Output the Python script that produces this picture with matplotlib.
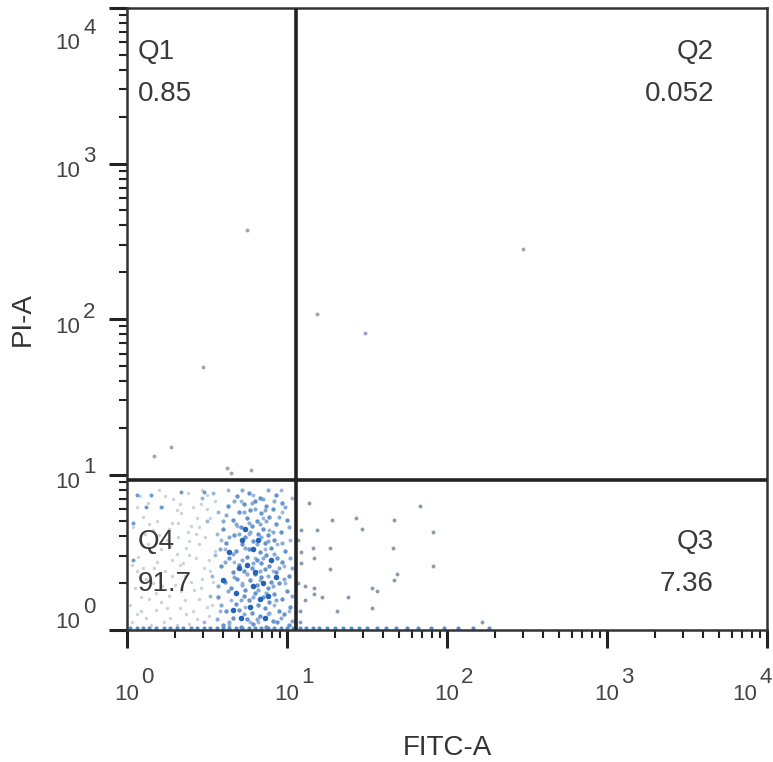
import numpy as np
import matplotlib
matplotlib.use('Agg')
import matplotlib.pyplot as plt
from matplotlib.ticker import LogLocator, NullFormatter

plt.rcParams['font.family'] = ['Liberation Sans', 'DejaVu Sans']

# quadrant gate (FITC-A, PI-A)
gate_x = 11.4
gate_y = 9.2

quad_names = ['Q1', 'Q2', 'Q3', 'Q4']
quad_pcts = ['0.85', '0.052', '7.36', '91.7']
decades = [0, 1, 2, 3, 4]

# events as (log10 FITC-A, log10 PI-A)
core_blue = [
    (0.60, 0.03), (0.71, 0.02), (0.79, 0.04), (0.87, 0.02), (0.94, 0.05), (1.01, 0.03),
    (0.66, 0.08), (0.75, 0.07), (0.83, 0.09), (0.91, 0.06), (0.98, 0.10),
    (0.62, 0.12), (0.70, 0.13), (0.78, 0.11), (0.86, 0.14), (0.95, 0.12), (1.02, 0.15),
    (0.68, 0.17), (0.76, 0.19), (0.82, 0.16), (0.89, 0.18), (0.97, 0.20),
    (0.57, 0.21), (0.73, 0.22), (0.80, 0.24), (0.85, 0.21), (0.92, 0.23), (1.00, 0.25),
    (0.65, 0.27), (0.74, 0.26), (0.81, 0.29), (0.88, 0.27), (0.95, 0.30),
    (0.61, 0.31), (0.69, 0.33), (0.77, 0.32), (0.84, 0.34), (0.90, 0.31), (1.01, 0.35),
    (0.66, 0.37), (0.73, 0.38), (0.80, 0.36), (0.86, 0.39), (0.93, 0.37),
    (0.59, 0.41), (0.70, 0.42), (0.78, 0.40), (0.84, 0.43), (0.89, 0.41), (0.97, 0.44),
    (0.64, 0.46), (0.75, 0.47), (0.81, 0.45), (0.87, 0.48), (0.94, 0.46),
    (0.68, 0.51), (0.76, 0.52), (0.83, 0.50), (0.90, 0.53), (0.99, 0.51),
    (0.62, 0.56), (0.72, 0.55), (0.79, 0.57), (0.86, 0.56), (0.92, 0.58),
    (0.67, 0.61), (0.74, 0.60), (0.82, 0.62), (0.88, 0.61), (0.96, 0.63),
    (0.60, 0.65), (0.71, 0.66), (0.78, 0.67), (0.85, 0.65), (0.93, 0.68),
    (0.66, 0.71), (0.75, 0.72), (0.81, 0.70), (0.89, 0.73), (1.00, 0.71),
    (0.70, 0.76), (0.77, 0.77), (0.84, 0.75), (0.91, 0.78),
    (0.63, 0.80), (0.73, 0.81), (0.80, 0.83), (0.87, 0.80), (0.97, 0.82),
    (0.69, 0.86), (0.76, 0.88), (0.83, 0.85), (0.93, 0.87),
]
mid_blue = [
    (0.64, 0.05), (0.73, 0.10), (0.81, 0.07), (0.89, 0.11), (0.96, 0.08), (1.03, 0.06),
    (0.59, 0.16), (0.71, 0.19), (0.79, 0.21), (0.87, 0.24), (0.93, 0.19), (1.03, 0.22),
    (0.63, 0.25), (0.72, 0.29), (0.82, 0.26), (0.91, 0.28), (0.98, 0.33),
    (0.67, 0.34), (0.75, 0.36), (0.83, 0.38), (0.88, 0.35), (0.95, 0.40),
    (0.61, 0.44), (0.72, 0.45), (0.79, 0.43), (0.85, 0.46), (0.92, 0.49), (1.02, 0.46),
    (0.66, 0.49), (0.74, 0.53), (0.81, 0.55), (0.88, 0.57), (0.97, 0.56),
    (0.64, 0.60), (0.70, 0.62), (0.77, 0.63), (0.84, 0.60), (0.91, 0.63), (1.01, 0.66),
    (0.68, 0.68), (0.76, 0.69), (0.83, 0.68), (0.87, 0.70), (0.95, 0.73),
    (0.62, 0.74), (0.73, 0.76), (0.80, 0.78), (0.86, 0.77), (0.99, 0.79),
    (0.67, 0.83), (0.78, 0.82), (0.85, 0.84), (0.92, 0.83),
    (0.58, 0.52), (0.57, 0.28), (0.56, 0.07), (0.60, 0.70), (0.72, 0.90), (0.88, 0.90),
    (1.03, 0.40),
]
dense_blue = [
    (0.79, 0.52), (0.80, 0.37), (0.60, 0.32), (0.68, 0.24), (0.77, 0.15),
    (0.90, 0.45), (0.72, 0.58), (0.85, 0.30), (0.75, 0.42), (0.83, 0.20),
    (0.70, 0.40), (0.82, 0.58), (0.66, 0.13), (0.88, 0.22), (0.74, 0.65),
    (0.79, 0.28), (0.93, 0.34), (0.64, 0.50), (0.86, 0.08), (0.71, 0.08),
]
light_blue = [
    (0.48, 0.05), (0.52, 0.22), (0.55, 0.48), (0.50, 0.70), (0.47, 0.85), (0.56, 0.62),
    (0.53, 0.35), (0.58, 0.12), (0.57, 0.76), (0.63, 0.90), (0.64, 0.03), (0.67, 0.44),
    (0.72, 0.30), (0.76, 0.62), (0.79, 0.87), (0.82, 0.05), (0.85, 0.72), (0.88, 0.10),
    (0.91, 0.38), (0.94, 0.55), (0.97, 0.76), (0.99, 0.30), (1.02, 0.58), (1.03, 0.85),
    (1.01, 0.12), (0.96, 0.90), (0.69, 0.67), (0.74, 0.15), (0.86, 0.52), (0.61, 0.52),
    (0.54, 0.88), (0.59, 0.58), (0.92, 0.16), (0.80, 0.46), (0.65, 0.19), (0.98, 0.41),
    (0.71, 0.83), (0.89, 0.64), (0.83, 0.32), (0.77, 0.05),
]
edge_blue = [
    (0.12, 0.79), (0.04, 0.69), (0.34, 0.89), (0.21, 0.79), (0.48, 0.89),
    (0.06, 0.87), (0.15, 0.87), (0.04, 0.45),
]
grey_cloud = [
    (0.03, 0.05), (0.09, 0.12), (0.15, 0.03), (0.21, 0.18), (0.27, 0.08), (0.33, 0.14),
    (0.39, 0.04), (0.45, 0.20), (0.51, 0.09), (0.05, 0.27), (0.12, 0.33), (0.18, 0.24),
    (0.24, 0.38), (0.30, 0.29), (0.36, 0.35), (0.42, 0.26), (0.48, 0.40), (0.54, 0.31),
    (0.07, 0.47), (0.13, 0.55), (0.19, 0.44), (0.25, 0.58), (0.31, 0.49), (0.37, 0.53),
    (0.43, 0.46), (0.49, 0.60), (0.55, 0.51), (0.04, 0.66), (0.10, 0.73), (0.16, 0.64),
    (0.22, 0.79), (0.28, 0.69), (0.34, 0.75), (0.40, 0.67), (0.46, 0.81), (0.52, 0.72),
    (0.08, 0.86), (0.20, 0.90), (0.29, 0.84), (0.38, 0.88), (0.50, 0.87), (0.26, 0.22),
    (0.32, 0.60), (0.41, 0.12), (0.17, 0.40), (0.35, 0.43), (0.44, 0.72), (0.23, 0.05),
    (0.14, 0.20), (0.47, 0.33), (0.11, 0.62), (0.39, 0.57), (0.28, 0.45), (0.06, 0.38),
    (0.53, 0.16), (0.19, 0.70), (0.36, 0.19), (0.43, 0.62), (0.31, 0.77), (0.02, 0.16),
    (0.06, 0.10), (0.12, 0.08), (0.18, 0.13), (0.25, 0.14), (0.31, 0.03), (0.37, 0.10),
    (0.44, 0.07), (0.50, 0.15), (0.09, 0.21), (0.16, 0.30), (0.22, 0.28), (0.28, 0.35),
    (0.34, 0.25), (0.40, 0.31), (0.46, 0.27), (0.52, 0.38), (0.03, 0.42), (0.10, 0.40),
    (0.15, 0.50), (0.21, 0.52), (0.27, 0.54), (0.33, 0.42), (0.39, 0.48), (0.45, 0.55),
    (0.51, 0.45), (0.08, 0.58), (0.14, 0.68), (0.20, 0.61), (0.26, 0.65), (0.32, 0.69),
    (0.38, 0.63), (0.45, 0.66), (0.50, 0.78), (0.06, 0.79), (0.13, 0.82), (0.24, 0.86),
    (0.33, 0.81), (0.41, 0.79), (0.47, 0.90), (0.55, 0.83),
]
# events piled up on the bottom edge (PI-A at the lower limit)
pile_x = [0.02, 0.06, 0.10, 0.14, 0.18, 0.23, 0.27, 0.31, 0.35, 0.40, 0.44, 0.48,
          0.52, 0.56, 0.60, 0.64, 0.68, 0.72, 0.76, 0.80, 0.84, 0.88, 0.92, 0.96,
          1.00, 1.04, 1.08, 1.12, 1.16, 1.20, 1.25, 1.30, 1.35, 1.40, 1.45, 1.50,
          1.56, 1.62, 1.68, 1.75, 1.82, 1.90, 1.98, 2.07, 2.16, 2.26]
pile_y = 0.01
q3_events = [
    (1.14, 0.82), (1.83, 0.80), (1.28, 0.71), (1.43, 0.72), (1.67, 0.71), (1.19, 0.64),
    (1.47, 0.65), (1.91, 0.63), (1.09, 0.64), (1.16, 0.53), (1.27, 0.53), (1.66, 0.53),
    (1.09, 0.50), (1.17, 0.46), (1.09, 0.43), (1.27, 0.39), (1.91, 0.41), (1.69, 0.36),
    (1.67, 0.32), (1.11, 0.28), (1.17, 0.27), (1.53, 0.27), (1.56, 0.25), (1.11, 0.19),
    (1.17, 0.23), (1.22, 0.21), (1.38, 0.21), (1.31, 0.12), (1.53, 0.14), (2.22, 0.05),
    (1.08, 0.05), (1.07, 0.30), (1.07, 0.58), (1.08, 0.12),
]
q1_events = [(0.75, 2.57), (0.475, 1.69), (0.275, 1.18), (0.17, 1.12),
             (0.625, 1.04), (0.775, 1.03), (0.65, 1.01)]
q2_events = [(1.19, 2.03), (1.49, 1.91), (2.475, 2.45)]


def to_lin(pairs):
    a = np.array(pairs)
    return 10 ** a[:, 0], 10 ** a[:, 1]


fig = plt.figure(figsize=(7.73, 7.62), dpi=100)
ax = fig.add_axes([0.1643, 0.1732, 0.828, 0.8163])

ax.scatter(*to_lin(grey_cloud), s=6, c='#cdd1d8', linewidths=0)
ax.scatter(*to_lin(light_blue), s=8, c='#9db6d8', linewidths=0)
ax.scatter(*to_lin(edge_blue), s=8, c='#6a98cf', linewidths=0)
ax.scatter(*to_lin(mid_blue), s=9, c='#86a9d6', linewidths=0)
ax.scatter(*to_lin(core_blue), s=10, c='#4a82c6', linewidths=0, alpha=0.85)
ax.scatter(*to_lin(dense_blue), s=16, c='#2563b5', linewidths=0)
ax.scatter(10 ** np.array(pile_x), np.full(len(pile_x), 10 ** pile_y), s=9,
           c='#5a8cc8', linewidths=0)
ax.scatter(*to_lin(q3_events), s=8, c='#8c9bb2', linewidths=0)
ax.scatter(*to_lin(q1_events), s=8, c='#9aa6ba', linewidths=0)
ax.scatter(*to_lin(q2_events), s=8, c='#9aa6ba', linewidths=0)

ax.set_xscale('log')
ax.set_yscale('log')
ax.set_xlim(1, 1e4)
ax.set_ylim(1, 1e4)

ax.axvline(gate_x, color='#222222', lw=2.6, zorder=3)
ax.axhline(gate_y, color='#222222', lw=2.6, zorder=3)

for axis in (ax.xaxis, ax.yaxis):
    axis.set_major_locator(LogLocator(base=10, numticks=10))
    axis.set_minor_locator(LogLocator(base=10, subs=np.arange(2, 10), numticks=20))
    axis.set_minor_formatter(NullFormatter())
ax.tick_params(which='major', direction='out', length=13, width=2.2, color='#222222',
               labelbottom=False, labelleft=False)
ax.tick_params(which='minor', direction='out', length=6, width=1.5, color='#222222')
for sp in ax.spines.values():
    sp.set_linewidth(1.8)
    sp.set_color('#333333')

# tick labels drawn as "10" with a full-size exponent
lab_kw = dict(textcoords='offset pixels', va='center', fontsize=16, color='#444444',
              annotation_clip=False)
for d in decades:
    xs = -22 if d == decades[-1] else 0
    ax.annotate('10', xy=(10 ** d, 0), xycoords=('data', 'axes fraction'),
                xytext=(xs, -64), ha='center', **lab_kw)
    ax.annotate(str(d), xy=(10 ** d, 0), xycoords=('data', 'axes fraction'),
                xytext=(xs + 14, -47), ha='left', **lab_kw)
    ys = -8
    if d == decades[-1]:
        ys = -35
    if d == decades[0]:
        ys = 8
    ax.annotate('10', xy=(0, 10 ** d), xycoords=('axes fraction', 'data'),
                xytext=(-47, ys), ha='right', **lab_kw)
    ax.annotate(str(d), xy=(0, 10 ** d), xycoords=('axes fraction', 'data'),
                xytext=(-44, ys + 15), ha='left', **lab_kw)

ax.set_xlabel('FITC-A', fontsize=20, color='#333333')
ax.xaxis.set_label_coords(0.5, -0.168)
ax.set_ylabel('PI-A', fontsize=20, color='#333333')
ax.yaxis.set_label_coords(-0.142, 0.5)

q_kw = dict(transform=ax.transAxes, fontsize=20, color='#3a3a3a', va='center')
ax.text(0.017, 0.929, quad_names[0], ha='left', **q_kw)
ax.text(0.017, 0.861, quad_pcts[0], ha='left', **q_kw)
ax.text(0.917, 0.929, quad_names[1], ha='right', **q_kw)
ax.text(0.917, 0.861, quad_pcts[1], ha='right', **q_kw)
ax.text(0.917, 0.141, quad_names[2], ha='right', **q_kw)
ax.text(0.917, 0.074, quad_pcts[2], ha='right', **q_kw)
ax.text(0.017, 0.141, quad_names[3], ha='left', **q_kw)
ax.text(0.017, 0.074, quad_pcts[3], ha='left', **q_kw)

fig.savefig('out.png', dpi=100)
